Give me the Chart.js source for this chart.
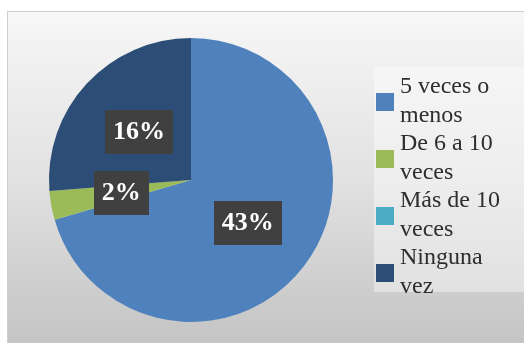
<!DOCTYPE html>
<html>
<head>
<meta charset="utf-8">
<script src="https://cdn.jsdelivr.net/npm/chart.js@4/dist/chart.umd.min.js"></script>
<style>
  html, body { margin: 0; padding: 0; background: #fff; }
  #wrap { width: 524px; height: 343px; position: relative; }
</style>
</head>
<body>
<div id="wrap"><canvas id="grafico"></canvas></div>
<script>
// frecuencia de uso: categorias y cantidades
const categorias = ['5 veces o menos', 'De 6 a 10 veces', 'Más de 10 veces', 'Ninguna vez'];
const cantidades = [43, 2, 0, 16];
const colores = ['#4f81bd', '#9bbb59', '#4bacc6', '#2c4d75'];

const FUENTE = '"Liberation Serif", "DejaVu Serif", serif';

// fondo con degradado y marco
const fondo = {
  id: 'fondo',
  beforeDraw(chart){
    const c = chart.ctx;
    const w = chart.width, h = chart.height;
    c.save();
    c.fillStyle = '#ffffff';
    c.fillRect(0, 0, w, h);
    const g = c.createLinearGradient(0, 11, 0, h);
    g.addColorStop(0, '#f7f7f7');
    g.addColorStop(0.5, '#e2e2e2');
    g.addColorStop(1, '#c4c4c4');
    c.fillStyle = g;
    c.fillRect(7, 11, w, h);
    c.strokeStyle = '#cfcfcf';
    c.lineWidth = 1;
    c.strokeRect(7.5, 11.5, w + 10, h + 10);
    c.restore();
  }
};

// etiquetas de datos en cajas oscuras
const etiquetas = {
  id: 'etiquetas',
  afterDatasetsDraw(chart){
    const c = chart.ctx;
    const meta = chart.getDatasetMeta(0);
    c.save();
    c.font = 'bold 26px ' + FUENTE;
    c.textAlign = 'center';
    c.textBaseline = 'middle';
    meta.data.forEach((arc, i) => {
      const v = chart.data.datasets[0].data[i];
      if(!v) return;
      const txt = v + '%';
      const p = arc.tooltipPosition();
      const bw = c.measureText(txt).width + 16;
      const bh = 44;
      c.fillStyle = '#404040';
      c.fillRect(Math.round(p.x - bw / 2), Math.round(p.y - bh / 2), Math.round(bw), bh);
      c.fillStyle = '#ffffff';
      c.fillText(txt, p.x, p.y + 1);
    });
    c.restore();
  }
};

function partirTexto(c, texto, maxAncho){
  const palabras = texto.split(' ');
  const lineas = [];
  let actual = '';
  palabras.forEach(p => {
    const prueba = actual ? actual + ' ' + p : p;
    if(actual && c.measureText(prueba).width > maxAncho){
      lineas.push(actual);
      actual = p;
    }else{
      actual = prueba;
    }
  });
  if(actual) lineas.push(actual);
  return lineas;
}

// leyenda con texto en dos lineas
const leyenda = {
  id: 'leyenda',
  afterDraw(chart){
    const c = chart.ctx;
    const x0 = 374, y0 = 67;
    c.save();
    c.fillStyle = 'rgba(255,255,255,0.4)';
    c.fillRect(x0, y0, chart.width - x0, 225);
    c.font = '24px ' + FUENTE;
    c.textAlign = 'left';
    c.textBaseline = 'alphabetic';
    const alto = 28.5;
    let base = 93;
    chart.data.labels.forEach((lab, i) => {
      const lineas = partirTexto(c, lab, 115);
      const centro = base - 16 + (lineas.length * alto) / 2 - 4;
      c.fillStyle = colores[i];
      c.fillRect(376, Math.round(centro - 9), 18, 18);
      c.fillStyle = '#2e2e2e';
      lineas.forEach((ln, k) => c.fillText(ln, 400, base + k * alto));
      base += lineas.length * alto;
    });
    c.restore();
  }
};

new Chart(document.getElementById('grafico'), {
  type: 'pie',
  data: {
    labels: categorias,
    datasets: [{
      data: cantidades,
      backgroundColor: colores,
      borderWidth: 0
    }]
  },
  options: {
    responsive: true,
    maintainAspectRatio: false,
    animation: false,
    layout: { padding: { left: 49, right: 191, top: 38, bottom: 21 } },
    plugins: {
      legend: { display: false },
      tooltip: { enabled: false }
    }
  },
  plugins: [fondo, etiquetas, leyenda]
});
</script>
</body>
</html>
